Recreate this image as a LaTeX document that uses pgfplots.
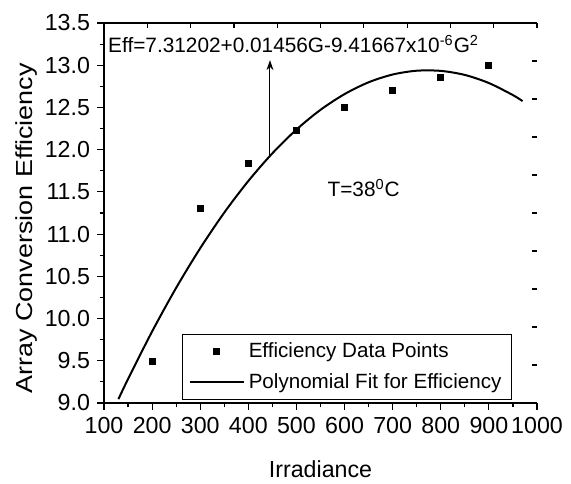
\documentclass[border=0pt]{standalone}
\usepackage{fontspec}
\setmainfont{Liberation Sans}
\usepackage{pgfplots}
\pgfplotsset{compat=1.18}
\usetikzlibrary{arrows.meta}

\begin{document}
\begin{tikzpicture}
\begin{axis}[
    at={(0pt,0pt)}, anchor=south west,
    scale only axis, width=216.5pt, height=190pt,
    xmin=100, xmax=1000, ymin=9.0, ymax=13.5,
    xtick={100,200,300,400,500,600,700,800,900,1000},
    ytick={9.0,9.5,10.0,10.5,11.0,11.5,12.0,12.5,13.0,13.5},
    minor x tick num=1, minor y tick num=1,
    axis lines*=left, axis line style={line width=0.7pt},
    tick align=outside, major tick length=3.5pt, minor tick length=2.2pt,
    every tick/.style={black, line width=0.6pt},
    tick label style={font=\fontsize{11.6}{13.5}\selectfont},
    /pgf/number format/assume math mode=true,
    /pgf/number format/1000 sep={},
    yticklabel style={/pgf/number format/fixed, /pgf/number format/fixed zerofill, /pgf/number format/precision=1},
    xlabel={Irradiance}, ylabel={Array Conversion Efficiency},
    label style={font=\fontsize{11.6}{14}\selectfont},
    xlabel style={at={(axis description cs:0.5,-0.195)}, anchor=base},
    ylabel style={at={(axis description cs:-0.164,0.46)}, anchor=base, xscale=1.16},
    legend style={at={(axis description cs:0.942,0.008)}, anchor=south east,
        draw=black, line width=0.5pt, font=\fontsize{10.3}{12.4}\selectfont,
        inner xsep=3pt, inner ysep=2pt, row sep=2.5pt},
    legend cell align=left,
    legend image code/.code={\draw[mark repeat=2,mark phase=2,#1] plot coordinates {(0pt,0pt)(13.5pt,0pt)(27pt,0pt)};},
]
\addplot[only marks, mark=square*, mark size=1.5pt, black] coordinates {
    (200,9.49)(300,11.30)(400,11.84)(500,12.23)(600,12.50)(700,12.70)(800,12.85)(900,13.00)
};
\addlegendentry{Efficiency Data Points}
\addplot[black, line width=1pt, smooth] coordinates {
    (130,9.046)(150,9.284)(200,9.847)(250,10.364)(300,10.833)(350,11.255)(400,11.629)
    (450,11.957)(500,12.238)(550,12.472)(600,12.658)(650,12.798)(700,12.890)(750,12.935)
    (800,12.933)(850,12.885)(900,12.789)(950,12.646)(970,12.575)
};
\addlegendentry{Polynomial Fit for Efficiency}
\draw[line width=0.5pt, -{Stealth[length=5pt, width=3.5pt]}] (axis cs:445,11.93) -- (axis cs:445,13.06);
\node[anchor=base west, inner sep=0pt, font=\fontsize{10.4}{12}\selectfont] at (axis cs:108,13.145)
    {Eff=7.31202+0.01456G-9.41667x10\textsuperscript{-6}G\textsuperscript{2}};
\node[anchor=base west, inner sep=0pt, font=\fontsize{10.4}{12}\selectfont] at (axis cs:564,11.44)
    {T=38\textsuperscript{0}C};
\end{axis}
% top and right ticks, ten equal steps, no right spine
\begin{axis}[
    at={(0pt,0pt)}, anchor=south west,
    scale only axis, width=216.5pt, height=190pt,
    xmin=0, xmax=10, ymin=0, ymax=10,
    xtick={0,...,10}, ytick={0,...,10}, xticklabels={}, yticklabels={},
    axis x line*=top, axis y line*=right,
    x axis line style={line width=0.7pt}, y axis line style={draw=none},
    tick align=inside, major tick length=2.5pt,
    every tick/.style={black, line width=0.6pt},
]
\addplot[draw=none] coordinates {(0,0)};
\end{axis}
\path (-52pt,-39pt) rectangle (233.5pt,201.5pt);
\end{tikzpicture}
\end{document}
